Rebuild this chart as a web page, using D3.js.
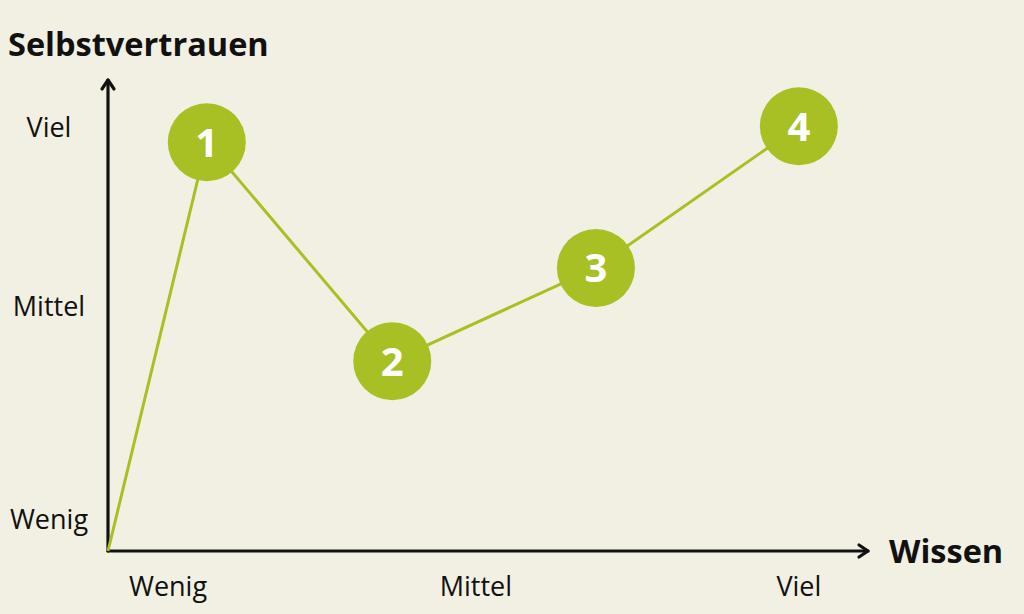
<!DOCTYPE html>
<html><head><meta charset="utf-8">
<script src="https://cdn.jsdelivr.net/npm/d3@7"></script>
<style>body{margin:0;background:#f2f0e2;}svg{display:block;}</style>
</head><body>
<svg id="c" width="1024" height="614"></svg>
<script>
const pointLabels = ["", "1", "2", "3", "4"];
const wissen = [0, 13.0, 37.4, 64.2, 90.9];
const selbstvertrauen = [0, 86.8, 40.3, 60.1, 90.2];
const xTickLabels = ["Wenig", "Mittel", "Viel"];
const xTickValues = [7.9, 48.4, 90.9];
const yTickLabels = ["Wenig", "Mittel", "Viel"];
const yTickValues = [6.6, 51.8, 90.0];

const svg = d3.select("#c");
const font = "'Open Sans', sans-serif";
const green = "#a8c023";
const x = d3.scaleLinear().domain([0, 100]).range([108, 868]);
const y = d3.scaleLinear().domain([0, 100]).range([551, 80]);

svg.append("rect").attr("width",1024).attr("height",614).attr("fill","#f2f0e2");

// axes
const ax = svg.append("g").attr("stroke","#111").attr("stroke-width",3.2).attr("fill","none")
  .attr("stroke-linecap","round").attr("stroke-linejoin","round");
ax.append("line").attr("x1",x(0)).attr("y1",y(0)).attr("x2",x(0)).attr("y2",y(100));
ax.append("line").attr("x1",x(0)).attr("y1",y(0)).attr("x2",x(100)).attr("y2",y(0));
ax.append("path").attr("d",`M${x(0)-6},${y(100)+9}L${x(0)},${y(100)}L${x(0)+6},${y(100)+9}`);
ax.append("path").attr("d",`M${x(100)-9},${y(0)-6}L${x(100)},${y(0)}L${x(100)-9},${y(0)+6}`);

// tick labels
svg.append("g").selectAll("text").data(xTickLabels).join("text")
  .attr("x",(d,i)=>x(xTickValues[i])).attr("y",596).attr("text-anchor","middle")
  .attr("font-family",font).attr("font-size",27).attr("fill","#111").text(d=>d);
svg.append("g").selectAll("text").data(yTickLabels).join("text")
  .attr("x",49).attr("y",(d,i)=>y(yTickValues[i])).attr("dy","0.35em").attr("text-anchor","middle")
  .attr("font-family",font).attr("font-size",27).attr("fill","#111").text(d=>d);

// axis titles
svg.append("text").attr("x",8).attr("y",56).attr("font-family",font).attr("font-weight",700)
  .attr("font-size",32.5).attr("fill","#111").text("Selbstvertrauen");
svg.append("text").attr("x",889).attr("y",563).attr("font-family",font).attr("font-weight",700)
  .attr("font-size",32.5).attr("fill","#111").text("Wissen");

// line
const pts = wissen.map((w,i)=>[w, selbstvertrauen[i]]);
svg.append("path").datum(pts).attr("fill","none").attr("stroke",green).attr("stroke-width",3)
  .attr("d", d3.line().x(d=>x(d[0])).y(d=>y(d[1])));

// circles
const g = svg.append("g").selectAll("g").data(pts.slice(1)).join("g")
  .attr("transform",d=>`translate(${x(d[0])},${y(d[1])})`);
g.append("circle").attr("r",39).attr("fill",green);
g.append("text").attr("text-anchor","middle").attr("dy","0.36em").attr("font-family",font)
  .attr("font-weight",700).attr("font-size",40).attr("fill","#fff").text((d,i)=>pointLabels[i+1]);
</script>
</body></html>
